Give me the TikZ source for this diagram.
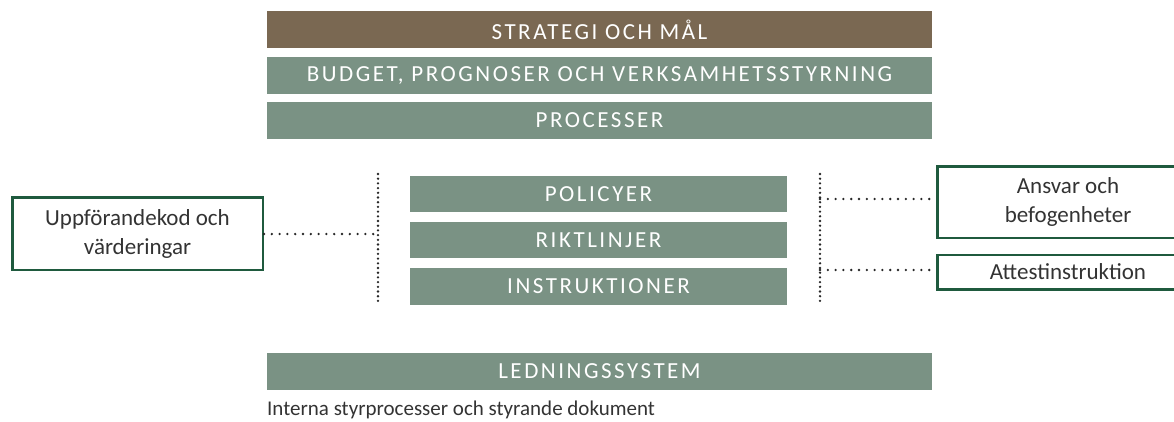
\documentclass[tikz,border=0pt]{standalone}
\usepackage{fontspec}
\setmainfont{Carlito}
\newfontfamily\capsfont[LetterSpace=11]{Carlito}
\definecolor{brownbar}{HTML}{7A6852}
\definecolor{greenbar}{HTML}{7A9284}
\definecolor{boxline}{HTML}{1F5A3E}
\definecolor{txt}{HTML}{333333}
\tikzset{
  bar/.style={fill=greenbar, text=white, minimum height=37pt, inner sep=0pt, font=\capsfont\fontsize{23}{24}\selectfont},
  sidebox/.style={draw=boxline, line width=2.5pt, text=txt, inner sep=0pt, align=center, font=\fontsize{23}{29}\selectfont},
  dotline/.style={line width=2.6pt, line cap=round, color=black!85},
  dotv/.style={dotline, dash pattern=on 0pt off 4.7pt},
  doth/.style={dotline, dash pattern=on 0pt off 7.8pt},
}
\begin{document}
\begin{tikzpicture}[x=1pt,y=-1pt]
\useasboundingbox (0,0) rectangle (1174,421);
\clip (0,0) rectangle (1174,421);
\node[bar, fill=brownbar, minimum width=665pt] (strategi) at (599.5,29.5) {STRATEGI OCH MÅL};
\node[bar, minimum width=665pt] (budget) at (599.5,75.5) {BUDGET, PROGNOSER OCH VERKSAMHETSSTYRNING};
\node[bar, minimum width=665pt] (processer) at (599.5,120.5) {PROCESSER};
\node[bar, minimum width=377pt, minimum height=36pt] (policyer) at (598.5,194) {POLICYER};
\node[bar, minimum width=377pt, minimum height=36pt] (riktlinjer) at (598.5,240) {RIKTLINJER};
\node[bar, minimum width=377pt, minimum height=37pt] (instruktioner) at (598.5,286.5) {INSTRUKTIONER};
\node[bar, minimum width=665pt] (ledning) at (599.5,371.5) {LEDNINGSSYSTEM};
\node[anchor=west, text=txt, inner sep=0pt, font=\fontsize{21}{24}\selectfont] (caption) at (267,410) {Interna styrprocesser och styrande dokument};
\node[sidebox, minimum width=250.5pt, minimum height=72.5pt] (uppf) at (137.5,233.5) {Uppförandekod och\\värderingar};
\node[sidebox, minimum width=261.5pt, minimum height=71.5pt] (ansvar) at (1068,202) {Ansvar och\\befogenheter};
\node[sidebox, minimum width=261.5pt, minimum height=34.5pt] (attest) at (1068,272) {Attestinstruktion};
\coordinate (lt) at (378,174);
\coordinate (lb) at (378,302);
\coordinate (lm) at (378,234);
\coordinate (rt) at (820,174);
\coordinate (rb) at (820,302);
\coordinate (r1) at (820,199);
\coordinate (r2) at (820,270);
\draw[dotv] (lt) -- (lb);
\draw[dotv] (rt) -- (rb);
\draw[doth] (uppf.east |- lm) -- (lm);
\draw[doth] (r1) -- (r1 -| ansvar.west);
\draw[doth] (r2) -- (r2 -| attest.west);
\end{tikzpicture}
\end{document}
